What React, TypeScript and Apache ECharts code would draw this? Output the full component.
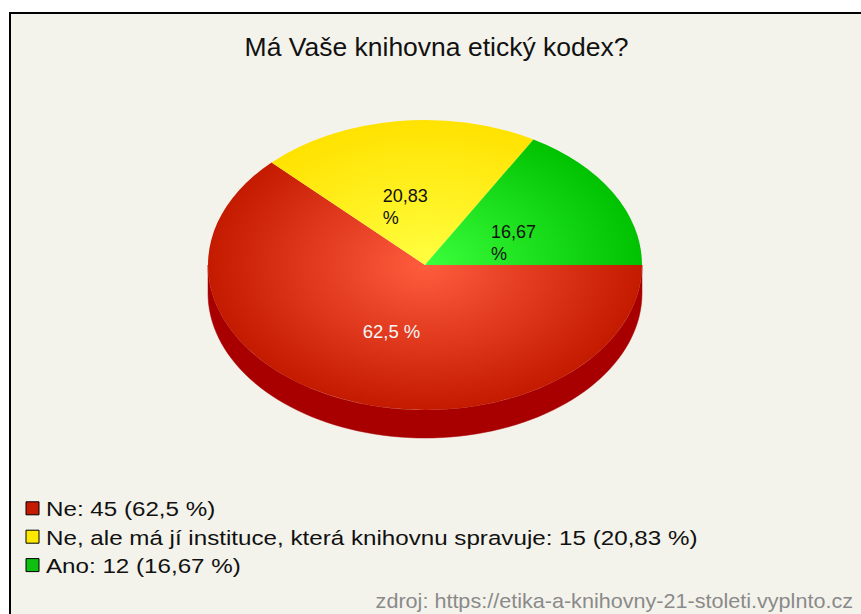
import React, { useEffect, useRef } from "react";
import * as echarts from "echarts";

const chartTitle = "Má Vaše knihovna etický kodex?";
const categories = ["Ne", "Ne, ale má jí instituce, která knihovnu spravuje", "Ano"];
const counts = [45, 15, 12];
const topInner = ["#ff5c3e", "#ffff40", "#3cff3c"];
const topOuter = ["#c41a00", "#ffe200", "#00c200"];
const sideColors = ["#a80000", "#c8b000", "#009000"];
const legendColors = ["#c41a00", "#ffe800", "#10c010"];
const labelColors = ["#f6f6f6", "#111111", "#111111"];
const sourceText = "zdroj: https://etika-a-knihovny-21-stoleti.vyplnto.cz";

const CX = 425;
const CY = 265;
const RX = 217;
const RY = 145;
const DEPTH = 28;
const FONT = "'Liberation Sans', Arial, sans-serif";

function fmtPct(v: number): string {
  const r = Math.round(v * 100) / 100;
  return String(r).replace(".", ",");
}

export default function App() {
  const ref = useRef<HTMLDivElement>(null);
  useEffect(() => {
    if (!ref.current) return;
    const chart = echarts.init(ref.current, undefined, { renderer: "svg" });
    const total = counts.reduce((a, b) => a + b, 0);
    const starts: number[] = [];
    let acc = 0;
    counts.forEach((v) => {
      starts.push(acc);
      acc += v;
    });
    const pcts = counts.map((v) => fmtPct((v / total) * 100));

    const renderItem = (params: any, api: any) => {
      const i = params.dataIndex;
      const v = api.value(0);
      const a0 = (starts[i] / total) * Math.PI * 2;
      const a1 = a0 + (v / total) * Math.PI * 2;
      const children: any[] = [];
      const ranges = [
        [0, Math.PI],
        [2 * Math.PI, 3 * Math.PI],
      ];
      for (const [r0, r1] of ranges) {
        const s = Math.max(a0, r0);
        const e = Math.min(a1, r1);
        if (e > s) {
          const pts: number[][] = [];
          const n = 80;
          for (let k = 0; k <= n; k++) {
            const t = s + ((e - s) * k) / n;
            pts.push([CX + RX * Math.cos(t), CY + RY * Math.sin(t)]);
          }
          for (let k = n; k >= 0; k--) {
            const t = s + ((e - s) * k) / n;
            pts.push([CX + RX * Math.cos(t), CY + RY * Math.sin(t) + DEPTH]);
          }
          children.push({
            type: "polygon",
            shape: { points: pts },
            style: { fill: sideColors[i], stroke: sideColors[i], lineWidth: 0.5 },
            z2: 1,
          });
        }
      }
      children.push({
        type: "sector",
        shape: { cx: CX, cy: CY, r: RX, r0: 0, startAngle: a0, endAngle: a1, clockwise: true },
        scaleY: RY / RX,
        originX: CX,
        originY: CY,
        style: {
          fill: new echarts.graphic.RadialGradient(
            CX,
            CY,
            RX,
            [
              { offset: 0, color: topInner[i] },
              { offset: 1, color: topOuter[i] },
            ],
            true
          ),
        },
        z2: 5,
      });
      const mid = (a0 + a1) / 2;
      const lx = CX + RX * 0.5 * Math.cos(mid);
      const ly = CY + RY * 0.5 * Math.sin(mid);
      const share = v / total;
      const text = pcts[i] + " %";
      if (share < 0.3) {
        children.push({
          type: "text",
          x: lx - 28,
          y: ly - 8,
          z2: 10,
          style: {
            text,
            x: 0,
            y: 0,
            width: 52,
            overflow: "break",
            align: "left",
            verticalAlign: "top",
            lineHeight: 22,
            fontSize: 18,
            fontFamily: FONT,
            fill: labelColors[i],
          },
        });
      } else {
        children.push({
          type: "text",
          x: lx + 8,
          y: ly,
          z2: 10,
          style: {
            text,
            x: 0,
            y: 0,
            align: "center",
            verticalAlign: "middle",
            fontSize: 18.5,
            fontFamily: FONT,
            fill: labelColors[i],
          },
        });
      }
      return { type: "group", children };
    };

    const legendEls: any[] = [];
    categories.forEach((c, i) => {
      const cy = 508.3 + i * 28.4;
      legendEls.push({
        type: "rect",
        shape: { x: 26, y: cy - 6.5, width: 13, height: 13 },
        style: { fill: legendColors[i], stroke: "#000", lineWidth: 1 },
        z: 10,
      });
      legendEls.push({
        type: "text",
        x: 46,
        y: cy + 1.2,
        scaleX: 1.24,
        z: 10,
        style: {
          text: `${c}: ${counts[i]} (${pcts[i]} %)`,
          x: 0,
          y: 0,
          align: "left",
          verticalAlign: "middle",
          fontSize: 19.5,
          fontFamily: FONT,
          fill: "#111",
        },
      });
    });

    chart.setOption({
      animation: false,
      backgroundColor: "#ffffff",
      graphic: [
        {
          type: "rect",
          shape: { x: 10, y: 13, width: 900, height: 700 },
          style: { fill: "#f4f3eb", stroke: "#000", lineWidth: 2 },
          z: 0,
        },
        {
          type: "text",
          x: 436.5,
          y: 47,
          scaleX: 1.06,
          z: 10,
          style: {
            text: chartTitle,
            x: 0,
            y: 0,
            align: "center",
            verticalAlign: "middle",
            fontSize: 25,
            fontFamily: FONT,
            fill: "#111",
          },
        },
        ...legendEls,
        {
          type: "text",
          x: 853,
          y: 600.5,
          scaleX: 1.08,
          z: 10,
          style: {
            text: sourceText,
            x: 0,
            y: 0,
            align: "right",
            verticalAlign: "middle",
            fontSize: 20,
            fontFamily: FONT,
            fill: "#8a8a8a",
          },
        },
      ],
      series: [
        {
          type: "custom",
          coordinateSystem: "none",
          silent: true,
          z: 5,
          renderItem,
          data: counts.map((v) => [v]),
        },
      ],
    });
    return () => chart.dispose();
  }, []);
  return (
    <div
      ref={ref}
      style={{ position: "fixed", left: 0, top: 0, width: 861, height: 614 }}
    />
  );
}
